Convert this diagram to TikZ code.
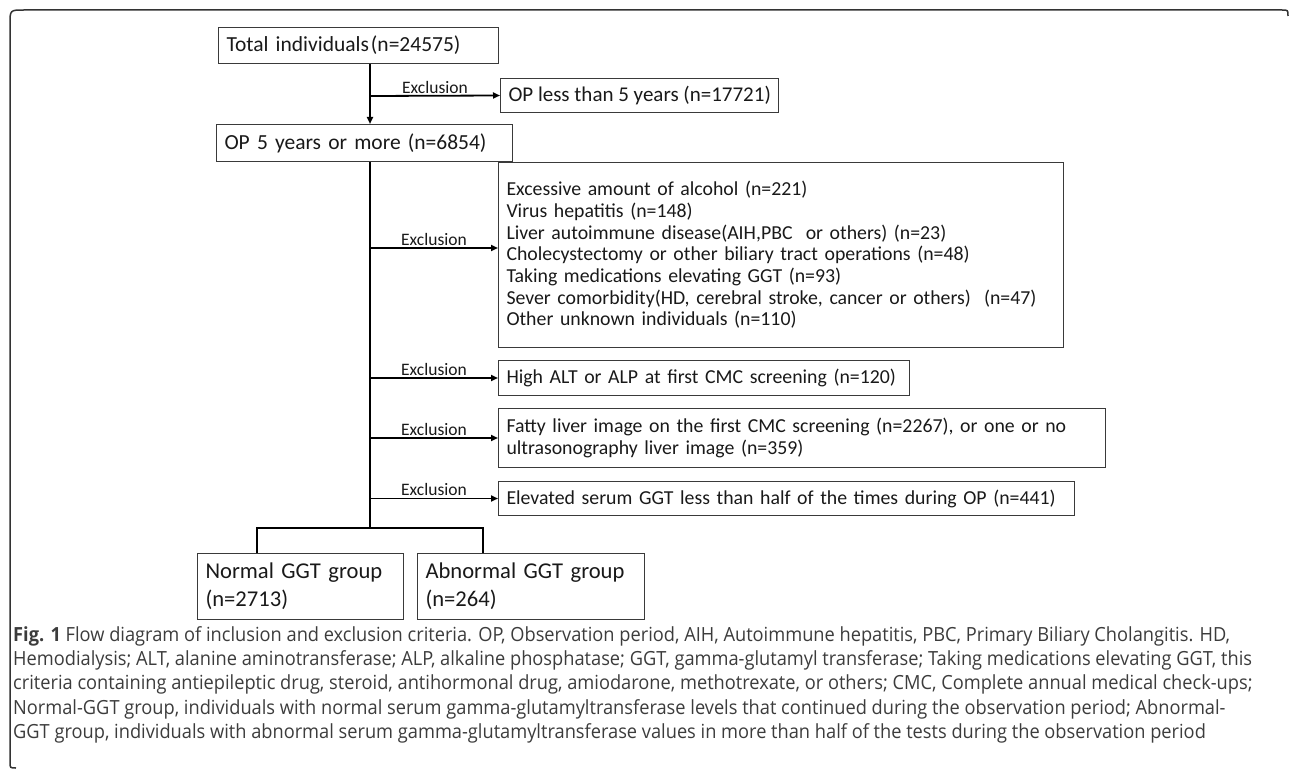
\documentclass[tikz,border=0pt]{standalone}
\usepackage{fontspec}
\setmainfont{Carlito}
\newfontfamily\capfont[FakeStretch=0.935]{Open Sans}
\usetikzlibrary{positioning, arrows.meta}
\definecolor{boxgray}{HTML}{3A3A3A}
\definecolor{captxt}{HTML}{3C3C3C}

\begin{document}
\begin{tikzpicture}[
    x=1pt, y=-1pt,
    box/.style={draw=boxgray, line width=1pt, rectangle, inner xsep=8pt, inner ysep=0pt, align=left, text=black!90, font=\fontsize{19.8}{21.7}\selectfont},
    arr/.style={-{Triangle[length=7pt, width=6pt]}, line width=1.8pt},
    lnk/.style={line width=1.8pt},
    lbl/.style={font=\fontsize{17.5}{20}\selectfont, inner sep=1.5pt, text=black!90},
    frame/.style={draw=black!80, line width=1.5pt}
]
    \useasboundingbox (0,0) rectangle (1290,770);
    \draw[frame] (1288,16) .. controls (1288,10) .. (1282,10) -- (24,10)
        .. controls (10,10) .. (10,24) -- (10,762) .. controls (10,768) .. (16,768);

    \node[box, anchor=north west, text width=264pt, minimum height=36pt, font=\fontsize{21.5}{24}\selectfont] (total) at (218,27) {Total individuals\hspace{2pt}(n=24575)};
    \node[box, anchor=north west, minimum height=34pt, font=\fontsize{21}{24}\selectfont] (opless) at (500,78) {OP less than 5 years (n=17721)};
    \node[box, text width=280pt, minimum height=37pt, font=\fontsize{21.5}{24}\selectfont] (opfive) [below right=60pt and -2pt of total.south west] {OP 5 years or more (n=6854)};

    \node[box, anchor=north west, text width=549pt, minimum height=185pt] (crit) at (498,162) {Excessive amount of alcohol (n=221)\\
        Virus hepatitis (n=148)\\
        Liver autoimmune disease(AIH,PBC\ \ or others) (n=23)\\
        Cholecystectomy or other biliary tract operations (n=48)\\
        Taking medications elevating GGT (n=93)\\
        Sever comorbidity(HD, cerebral stroke, cancer or others)\ \ (n=47)\\
        Other unknown individuals (n=110)};
    \node[box, text width=395pt, minimum height=35pt] (highalt) [below right=12pt and 0pt of crit.south west] {High ALT or ALP at first CMC screening (n=120)};
    \node[box, text width=591pt, minimum height=59pt] (fatty) [below right=12pt and 0pt of highalt.south west] {Fatty liver image on the first CMC screening (n=2267), or one or no\\ ultrasonography liver image (n=359)};
    \node[box, text width=560pt, minimum height=34pt] (elev) [below right=13pt and 0pt of fatty.south west] {Elevated serum GGT less than half of the times during OP (n=441)};

    \node[box, anchor=north west, text width=190pt, minimum height=66pt, font=\fontsize{22.6}{28}\selectfont] (normal) at (197,553) {Normal GGT group\\(n=2713)};
    \node[box, text width=211pt, minimum height=66pt, font=\fontsize{22.6}{28}\selectfont] (abnormal) [right=13pt of normal] {Abnormal GGT group\\(n=264)};

    \coordinate (s0) at (370,96);
    \coordinate (s1) at (370,248);
    \coordinate (fork) at (370,528);
    \coordinate (nl) at (257,528);
    \coordinate (nr) at (483,528);

    \draw[arr] (total.south -| s0) -- (opfive.north -| s0);
    \draw[arr] (s0) -- node[lbl, above] (x0) {Exclusion} (opless.west);
    \draw[lnk] (opfive.south -| fork) -- (fork);
    \draw[arr] (s1) -- node[lbl, above] (x1) {Exclusion} (s1 -| crit.west);
    \draw[arr] (highalt.west -| s0) -- node[lbl, above] (x2) {Exclusion} (highalt.west);
    \draw[arr] (fatty.west -| s0) -- node[lbl, above] (x3) {Exclusion} (fatty.west);
    \draw[arr] (elev.west -| s0) -- node[lbl, above] (x4) {Exclusion} (elev.west);
    \draw[lnk] (nl |- normal.north) -- (nl) -- (nr) -- (nr |- abnormal.north);

    \node[anchor=north west, align=left, inner sep=0pt, text=captxt, font=\fontsize{19.5}{24.3}\capfont] (caption) at (13,626) {\textbf{Fig. 1} Flow diagram of inclusion and exclusion criteria. OP, Observation period, AIH, Autoimmune hepatitis, PBC, Primary Biliary Cholangitis. HD,\\
        Hemodialysis; ALT, alanine aminotransferase; ALP, alkaline phosphatase; GGT, gamma-glutamyl transferase; Taking medications elevating GGT, this\\
        criteria containing antiepileptic drug, steroid, antihormonal drug, amiodarone, methotrexate, or others; CMC, Complete annual medical check-ups;\\
        Normal-GGT group, individuals with normal serum gamma-glutamyltransferase levels that continued during the observation period; Abnormal-\\
        GGT group, individuals with abnormal serum gamma-glutamyltransferase values in more than half of the tests during the observation period};
\end{tikzpicture}
\end{document}
